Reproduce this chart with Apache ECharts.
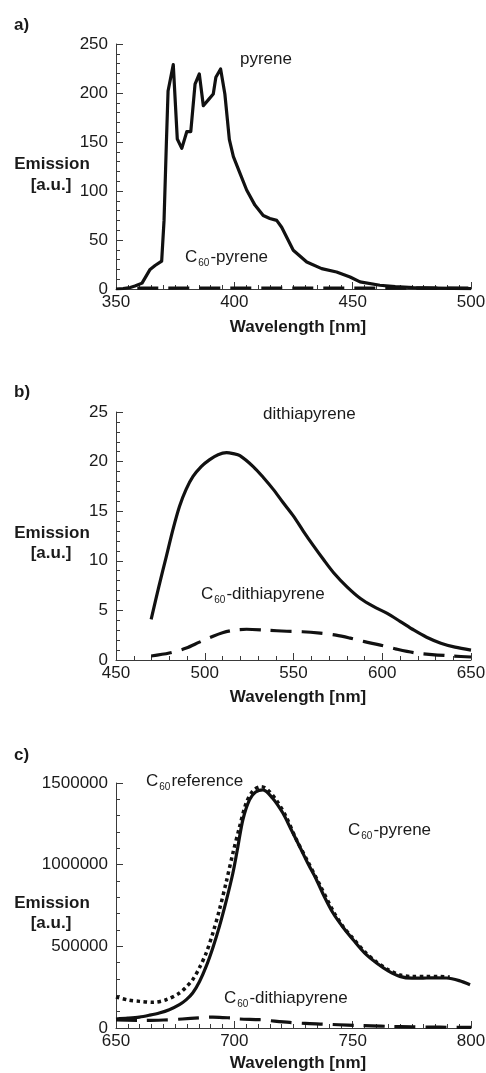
<!DOCTYPE html>
<html>
<head>
<meta charset="utf-8">
<script src="https://cdn.jsdelivr.net/npm/echarts@6/dist/echarts.min.js"></script>
<style>
  html, body { margin: 0; padding: 0; background: #fff; }
  #chart { width: 486px; height: 1073px; }
</style>
</head>
<body>
<div id="chart"></div>
<script>
// ---- Panel a: pyrene and C60-pyrene emission ----
const pyreneWl = [350, 353, 356, 358, 361, 364.4, 366.5, 369.3, 370.3, 371.3, 372, 374.2, 375.9, 377.8, 379.9, 381.6, 383.4, 385.2, 386.9, 389, 391.1, 392.2, 394.2, 396, 397.9, 399.6, 402.4, 405.2, 408.7, 412.2, 415, 417.9, 420, 424.9, 430.6, 436.9, 443.2, 448.9, 453.1, 461.5, 468, 475.6, 485, 500];
const pyreneEm = [0, 0.5, 1.5, 3, 6, 20, 24, 28.5, 70, 150, 202, 229, 153, 143.5, 160.5, 160.5, 209, 219.5, 187, 193, 199, 216, 224.5, 199, 152.5, 135, 118, 101, 85.6, 75, 72, 70, 63, 39.6, 27.6, 20.8, 17.4, 12.3, 7.2, 3.8, 2.5, 1.4, 0.8, 0.3];
const c60PyreneWlA = [359, 380, 400, 420, 440, 460, 480, 500];
const c60PyreneEmA = [0.8, 1, 1, 1, 1, 1, 0.8, 0.8];

// ---- Panel b: dithiapyrene and C60-dithiapyrene emission ----
const dithiaWl = [469.8, 474, 478.3, 482, 485.8, 489.5, 493.4, 498, 502.8, 507.5, 512.3, 516, 519.8, 527.3, 533, 538.6, 544, 550, 555.5, 561.3, 567, 572.6, 580, 587.7, 595, 602.8, 610, 617.9, 625, 633, 641, 650];
const dithiaEm = [4.1, 7.3, 10.4, 13.1, 15.5, 17.2, 18.5, 19.5, 20.2, 20.7, 20.9, 20.8, 20.6, 19.5, 18.4, 17.2, 15.9, 14.5, 13, 11.5, 10.1, 8.8, 7.4, 6.2, 5.4, 4.7, 3.9, 3.0, 2.3, 1.7, 1.3, 1.0];
const c60DithiaWlB = [469.8, 480, 489.6, 497, 504.7, 510, 516, 523.6, 535, 546.2, 555, 565, 574, 582, 590, 599, 608, 617.8, 628, 640, 650];
const c60DithiaEmB = [0.4, 0.7, 1.2, 1.8, 2.4, 2.75, 3.0, 3.1, 3.0, 2.9, 2.85, 2.7, 2.5, 2.2, 1.85, 1.5, 1.1, 0.74, 0.55, 0.4, 0.3];

// ---- Panel c: C60 reference, C60-pyrene and C60-dithiapyrene emission ----
const c60PyreneWlC = [650, 655, 659.9, 664, 668.3, 672.5, 676.8, 679.6, 682.4, 685.3, 688.1, 691, 693.7, 696.6, 699.4, 701.5, 703.6, 706.4, 709, 712.1, 716, 720.5, 724, 727.6, 731, 734.7, 738, 741.7, 746, 750.2, 755, 760.1, 765, 769.9, 775, 781.2, 785.5, 789.7, 795, 799.6];
const c60PyreneEmC = [55000, 60000, 67000, 78000, 92000, 112000, 143000, 172000, 214000, 285000, 377000, 495000, 622000, 780000, 949000, 1110000, 1275000, 1397000, 1445000, 1458000, 1410000, 1316000, 1215000, 1111000, 1010000, 908000, 805000, 704000, 615000, 540000, 460000, 398000, 350000, 316000, 305000, 306000, 307000, 306000, 290000, 265000];
const c60RefWl = [650, 655, 660, 665.5, 671.2, 676.8, 679.6, 682.4, 685.3, 688.1, 691, 693.7, 696.6, 699.4, 702, 705, 708, 711.4, 714, 718, 722, 726, 731, 736, 742, 746, 750.2, 755, 760, 765, 770, 775, 781, 786, 791];
const c60RefEm = [190000, 172000, 163000, 157000, 173000, 214000, 250000, 296000, 370000, 459000, 585000, 724000, 895000, 1071000, 1220000, 1377000, 1455000, 1478000, 1460000, 1390000, 1290000, 1160000, 1020000, 880000, 710000, 620000, 548000, 468000, 405000, 357000, 325000, 315000, 316000, 316000, 312000];
const c60DithiaWlC = [650, 662, 670, 678, 685, 690.9, 695, 699.4, 702.3, 710.7, 717, 723.4, 730, 737.5, 744, 751.6, 758, 765.7, 775, 786.9, 800];
const c60DithiaEmC = [50000, 46000, 49000, 55000, 62000, 67000, 64000, 61000, 55000, 51000, 42000, 34000, 28000, 24000, 20000, 16000, 13000, 10000, 7000, 5000, 4000];

// ---- Axis ranges and tick settings per panel ----
const xRanges = [[350, 500], [450, 650], [650, 800]];
const xMinorSplits = [10, 5, 10];
const yRanges = [[0, 250], [0, 25], [0, 1500000]];
const yIntervals = [50, 5, 500000];

const FONT = "'Liberation Sans', Arial, Helvetica, sans-serif";
const INK = '#1a1a1a';
const AXIS = '#3a3a3a';

const pairs = (xs, ys) => xs.map((x, i) => [x, ys[i]]);
const plain = v => String(v);

const gridTops = [44, 412, 783];
const gridHeights = [245, 248, 245];

const grids = gridTops.map((t, i) => ({
  left: 116, width: 355, top: t, height: gridHeights[i],
  containLabel: false, outerBoundsMode: 'none'
}));

const xAxes = xRanges.map((r, i) => ({
  type: 'value', gridIndex: i, min: r[0], max: r[1], interval: 50,
  axisLine: { show: true, onZero: false, lineStyle: { color: AXIS, width: 1 } },
  axisTick: { show: true, inside: true, length: 7, lineStyle: { color: AXIS } },
  minorTick: { show: true, splitNumber: xMinorSplits[i], length: 4, lineStyle: { color: AXIS } },
  splitLine: { show: false },
  axisLabel: { color: INK, fontSize: 17, fontFamily: FONT, margin: 5, formatter: plain }
}));

const yAxes = yRanges.map((r, i) => ({
  type: 'value', gridIndex: i, min: r[0], max: r[1], interval: yIntervals[i],
  axisLine: { show: true, onZero: false, lineStyle: { color: AXIS, width: 1 } },
  axisTick: { show: true, inside: true, length: 7, lineStyle: { color: AXIS } },
  minorTick: { show: true, splitNumber: 5, length: 4, lineStyle: { color: AXIS } },
  splitLine: { show: false },
  axisLabel: { color: INK, fontSize: 17, fontFamily: FONT, margin: 8, formatter: plain }
}));

function curve(idx, xs, ys, dash, smooth) {
  return {
    type: 'line', xAxisIndex: idx, yAxisIndex: idx,
    data: pairs(xs, ys), showSymbol: false, symbol: 'none',
    smooth: smooth, clip: true, silent: true,
    lineStyle: { color: '#111', width: dash === 'dot' ? 3.5 : 3.2,
      type: dash === 'dash' ? [21, 10] : dash === 'dot' ? [3.5, 3.5] : 'solid',
      cap: 'butt', join: 'round' }
  };
}

const series = [
  curve(0, pyreneWl, pyreneEm, 'solid', false),
  curve(0, c60PyreneWlA, c60PyreneEmA, 'dash', false),
  curve(1, dithiaWl, dithiaEm, 'solid', 0.3),
  curve(1, c60DithiaWlB, c60DithiaEmB, 'dash', 0.3),
  curve(2, c60PyreneWlC, c60PyreneEmC, 'solid', 0.3),
  curve(2, c60RefWl, c60RefEm, 'dot', 0.3),
  curve(2, c60DithiaWlC, c60DithiaEmC, 'dash', 0.3)
];

// ---- Text: panel letters, axis titles and curve annotations ----
const richSub = {
  c: { fontSize: 17, fontFamily: FONT, fill: INK, color: INK, lineHeight: 22 },
  s: { fontSize: 10, fontFamily: FONT, fill: INK, color: INK, lineHeight: 10, padding: [12, 1, 0, 1] }
};

function txt(x, y, text, opts) {
  opts = opts || {};
  return {
    type: 'text', x: x, y: y, silent: true,
    style: {
      text: text, fill: INK, fontFamily: FONT,
      fontSize: opts.size || 17, fontWeight: opts.bold ? 'bold' : 'normal',
      align: opts.align || 'left', verticalAlign: 'middle',
      rich: opts.rich
    }
  };
}

const panelLetters = ['a)', 'b)', 'c)'];
const letterY = [25, 392, 755];
const emissionY = [164, 533, 903];
const auY = [185, 553, 923];
const wavelengthY = [327, 697, 1063];

const graphics = [];
for (let i = 0; i < 3; i++) {
  graphics.push(txt(14, letterY[i], panelLetters[i], { bold: true }));
  graphics.push(txt(52, emissionY[i], 'Emission', { bold: true, align: 'center' }));
  graphics.push(txt(51, auY[i], '[a.u.]', { bold: true, align: 'center' }));
  graphics.push(txt(298, wavelengthY[i], 'Wavelength [nm]', { bold: true, align: 'center' }));
}
graphics.push(txt(240, 59, 'pyrene'));
graphics.push(txt(185, 257, '{c|C}{s|60}{c|-pyrene}', { rich: richSub }));
graphics.push(txt(263, 414, 'dithiapyrene'));
graphics.push(txt(201, 594, '{c|C}{s|60}{c|-dithiapyrene}', { rich: richSub }));
graphics.push(txt(146, 781, '{c|C}{s|60}{c|reference}', { rich: richSub }));
graphics.push(txt(348, 830, '{c|C}{s|60}{c|-pyrene}', { rich: richSub }));
graphics.push(txt(224, 998, '{c|C}{s|60}{c|-dithiapyrene}', { rich: richSub }));

const chart = echarts.init(document.getElementById('chart'), null, { renderer: 'canvas' });
chart.setOption({
  animation: false,
  backgroundColor: '#ffffff',
  grid: grids,
  xAxis: xAxes,
  yAxis: yAxes,
  series: series,
  graphic: graphics
});
</script>
</body>
</html>
